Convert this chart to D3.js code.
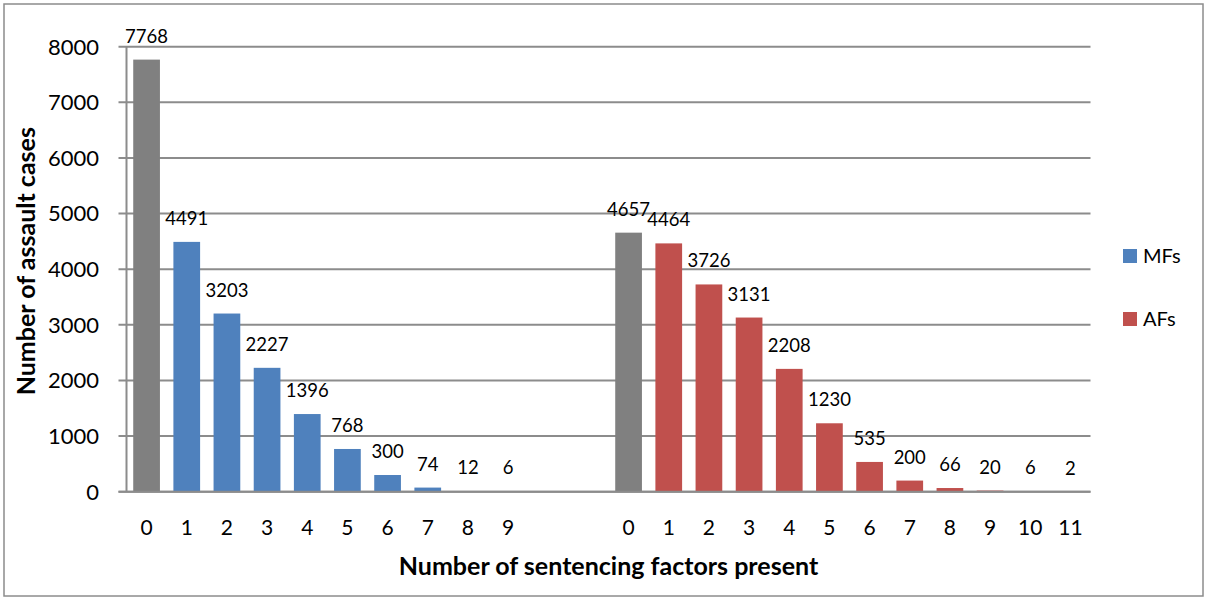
<!DOCTYPE html>
<html lang="en">
<head>
  <meta charset="UTF-8">
  <title>Assault cases by number of sentencing factors</title>
  <script src="https://d3js.org/d3.v7.min.js"></script>
  <style>
    body { margin: 0; background: #fff; }
    text { font-family: Lato, "Open Sans", sans-serif; fill: #000; }
  </style>
</head>
<body>
<svg width="1207" height="599"></svg>

<script>
  // Categories (number of factors present) for each group
  var mfCats = ["0", "1", "2", "3", "4", "5", "6", "7", "8", "9"];
  var afCats = ["0", "1", "2", "3", "4", "5", "6", "7", "8", "9", "10", "11"];

  // Number of assault cases; first value of each group is the "0 factors" bar (grey)
  var mfValues = [7768, 4491, 3203, 2227, 1396, 768, 300, 74, 12, 6];
  var afValues = [4657, 4464, 3726, 3131, 2208, 1230, 535, 200, 66, 20, 6, 2];

  var yTicks = [0, 1000, 2000, 3000, 4000, 5000, 6000, 7000, 8000];

  var seriesNames = ["MFs", "AFs"];
  var colors = { MFs: "#4f81bd", AFs: "#c0504d", zero: "#808080" };

  // build rows: MF group, two empty slots, AF group
  var rows = [];
  mfCats.forEach(function(c, i) {
    rows.push({ key: "MF-" + c, label: c, value: mfValues[i], series: i === 0 ? "zero" : "MFs" });
  });
  rows.push({ key: "gap-1", label: "", value: null });
  rows.push({ key: "gap-2", label: "", value: null });
  afCats.forEach(function(c, i) {
    rows.push({ key: "AF-" + c, label: c, value: afValues[i], series: i === 0 ? "zero" : "AFs" });
  });

  var svg = d3.select("svg");
  var plotLeft = 126.5, plotRight = 1090.5, plotTop = 46.7, plotBottom = 491.7;
  var gridColor = "#8c8c8c";

  // outer frame
  svg.append("rect")
    .attr("x", 4).attr("y", 4)
    .attr("width", 1199).attr("height", 592)
    .attr("fill", "none")
    .attr("stroke", "#8c8c8c")
    .attr("stroke-width", 1.5);

  var x = d3.scaleBand()
    .domain(rows.map(function(d) { return d.key; }))
    .range([plotLeft, plotRight])
    .paddingInner(0.335)
    .paddingOuter(0.1675);

  var y = d3.scaleLinear()
    .domain([0, 8000])
    .range([plotBottom, plotTop]);

  // gridlines + y tick marks
  svg.append("g")
    .selectAll("line")
    .data(yTicks)
    .enter().append("line")
      .attr("x1", plotLeft - 8)
      .attr("x2", plotRight)
      .attr("y1", function(d) { return y(d); })
      .attr("y2", function(d) { return y(d); })
      .attr("stroke", gridColor)
      .attr("stroke-width", 2);

  // y axis line
  svg.append("line")
    .attr("x1", plotLeft).attr("x2", plotLeft)
    .attr("y1", plotTop).attr("y2", plotBottom)
    .attr("stroke", gridColor)
    .attr("stroke-width", 2);

  // y tick labels
  svg.append("g")
    .selectAll("text")
    .data(yTicks)
    .enter().append("text")
      .attr("x", 99)
      .attr("y", function(d) { return y(d); })
      .attr("dy", "0.36em")
      .attr("text-anchor", "end")
      .style("font-size", "22px")
      .text(function(d) { return d; });

  var bars = rows.filter(function(d) { return d.value !== null; });

  // bars
  svg.append("g")
    .selectAll("rect")
    .data(bars)
    .enter().append("rect")
      .attr("x", function(d) { return x(d.key); })
      .attr("y", function(d) { return y(d.value); })
      .attr("width", x.bandwidth())
      .attr("height", function(d) { return y(0) - y(d.value); })
      .attr("fill", function(d) { return colors[d.series]; });

  // baseline over the bars
  svg.append("line")
    .attr("x1", plotLeft - 8).attr("x2", plotRight)
    .attr("y1", y(0)).attr("y2", y(0))
    .attr("stroke", gridColor)
    .attr("stroke-width", 2);

  // data labels
  svg.append("g")
    .selectAll("text")
    .data(bars)
    .enter().append("text")
      .attr("x", function(d) { return x(d.key) + x.bandwidth() / 2; })
      .attr("y", function(d) { return y(d.value) - 17; })
      .attr("text-anchor", "middle")
      .style("font-size", "18.5px")
      .text(function(d) { return d.value; });

  // x tick labels
  svg.append("g")
    .selectAll("text")
    .data(rows.filter(function(d) { return d.label !== ""; }))
    .enter().append("text")
      .attr("x", function(d) { return x(d.key) + x.bandwidth() / 2; })
      .attr("y", 534.5)
      .attr("text-anchor", "middle")
      .style("font-size", "21px")
      .text(function(d) { return d.label; });

  // axis titles
  svg.append("text")
    .attr("x", (plotLeft + plotRight) / 2)
    .attr("y", 575)
    .attr("text-anchor", "middle")
    .style("font-size", "25px")
    .style("font-weight", "bold")
    .text("Number of sentencing factors present");

  svg.append("text")
    .attr("transform", "translate(35," + ((plotTop + plotBottom) / 2 - 8) + ") rotate(-90)")
    .attr("text-anchor", "middle")
    .style("font-size", "25px")
    .style("font-weight", "bold")
    .text("Number of assault cases");

  // legend
  var legend = svg.append("g")
    .selectAll("g")
    .data(seriesNames)
    .enter().append("g")
      .attr("transform", function(d, i) { return "translate(1123," + (249 + i * 63) + ")"; });

  legend.append("rect")
    .attr("width", 14).attr("height", 14)
    .attr("fill", function(d) { return colors[d]; });

  legend.append("text")
    .attr("x", 20)
    .attr("y", 7)
    .attr("dy", "0.36em")
    .style("font-size", "20px")
    .text(function(d) { return d; });
</script>

</body>
</html>
